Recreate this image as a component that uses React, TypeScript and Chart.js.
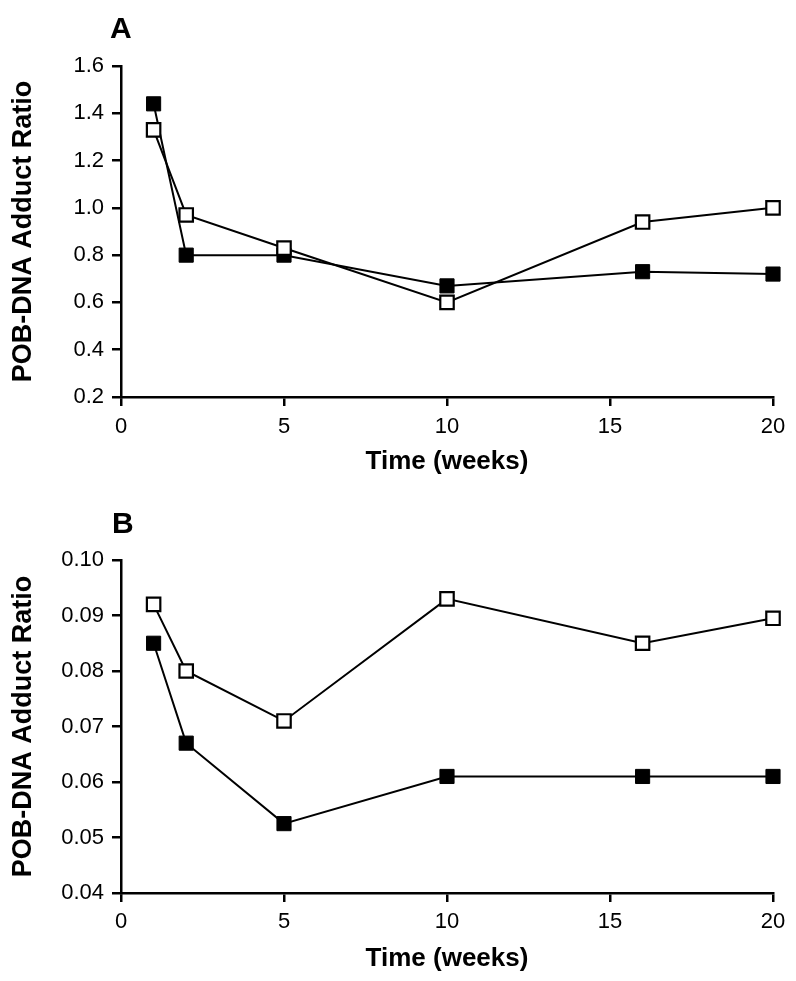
import React, { useEffect, useRef } from "react";
import { Chart, registerables } from "chart.js";

Chart.register(...registerables);

const weeks = [1, 2, 5, 10, 16, 20];
const xTicks = [0, 5, 10, 15, 20];

const panelAFilled = [1.44, 0.8, 0.8, 0.67, 0.73, 0.72];
const panelAOpen = [1.33, 0.97, 0.83, 0.6, 0.94, 1.0];
const panelAYTicks = [0.2, 0.4, 0.6, 0.8, 1.0, 1.2, 1.4, 1.6];

const panelBFilled = [0.085, 0.067, 0.0525, 0.061, 0.061, 0.061];
const panelBOpen = [0.092, 0.08, 0.071, 0.093, 0.085, 0.0895];
const panelBYTicks = [0.04, 0.05, 0.06, 0.07, 0.08, 0.09, 0.1];

const xTitle = "Time (weeks)";
const yTitle = "POB-DNA Adduct Ratio";

const FONT = "'Liberation Sans', Arial, Helvetica, sans-serif";

type PanelProps = {
  letter: string;
  filled: number[];
  open: number[];
  yTicks: number[];
  decimals: number;
  height: number;
  top: number;
  areaTop: number;
  areaBottom: number;
  letterX: number;
  letterY: number;
  xTickPad: number;
  xTitlePadBottom: number;
};

function Panel(props: PanelProps) {
  const ref = useRef<HTMLCanvasElement | null>(null);
  useEffect(() => {
    const canvas = ref.current;
    if (!canvas) return;
    const letterPlugin = {
      id: "panelLetter",
      afterDraw(chart: any) {
        const ctx = chart.ctx;
        ctx.save();
        ctx.fillStyle = "#000";
        ctx.font = `bold 30px ${FONT}`;
        ctx.textAlign = "left";
        ctx.textBaseline = "alphabetic";
        ctx.fillText(props.letter, props.letterX, props.letterY);
        ctx.restore();
      },
    };
    const yMin = props.yTicks[0];
    const yMax = props.yTicks[props.yTicks.length - 1];
    const mk = (vals: number[]) => weeks.map((w, i) => ({ x: w, y: vals[i] }));
    const chart = new Chart(canvas, {
      type: "line",
      data: {
        datasets: [
          {
            label: "open",
            data: mk(props.open),
            borderColor: "#000",
            borderWidth: 2,
            pointStyle: "rect",
            pointRadius: 9.5,
            pointBorderWidth: 2.2,
            pointBackgroundColor: "#fff",
            pointBorderColor: "#000",
            tension: 0,
            clip: false,
          },
          {
            label: "filled",
            data: mk(props.filled),
            borderColor: "#000",
            borderWidth: 2,
            pointStyle: "rect",
            pointRadius: 10,
            pointBorderWidth: 1,
            pointBackgroundColor: "#000",
            pointBorderColor: "#000",
            tension: 0,
            clip: false,
          },
        ],
      },
      options: {
        animation: false,
        responsive: false,
        devicePixelRatio: 1,
        events: [],
        layout: {
          padding: { left: 0, right: 23, top: props.areaTop, bottom: 0 },
        },
        plugins: {
          legend: { display: false },
          tooltip: { enabled: false },
          title: { display: false },
        },
        scales: {
          x: {
            type: "linear",
            min: 0,
            max: 20,
            afterBuildTicks: (scale: any) => {
              scale.ticks = xTicks.map((v) => ({ value: v }));
            },
            ticks: {
              color: "#000",
              font: { family: FONT, size: 22 },
              padding: props.xTickPad,
              maxRotation: 0,
              callback: (v: any) => String(v),
            },
            grid: {
              display: true,
              drawOnChartArea: false,
              drawTicks: true,
              tickLength: 9,
              color: "#000",
              lineWidth: 2.5,
            },
            border: { display: true, color: "#000", width: 2.5 },
            title: {
              display: true,
              text: xTitle,
              color: "#000",
              font: { family: FONT, size: 26, weight: "bold" },
              padding: { top: 0, bottom: props.xTitlePadBottom },
            },
            afterFit: (scale: any) => {
              scale.height = props.height - props.areaBottom;
            },
          } as any,
          y: {
            type: "linear",
            min: yMin,
            max: yMax,
            afterBuildTicks: (scale: any) => {
              scale.ticks = props.yTicks.map((v) => ({ value: v }));
            },
            ticks: {
              color: "#000",
              font: { family: FONT, size: 22 },
              padding: 8,
              callback: (v: any) => Number(v).toFixed(props.decimals),
            },
            grid: {
              display: true,
              drawOnChartArea: false,
              drawTicks: true,
              tickLength: 9,
              color: "#000",
              lineWidth: 2.5,
            },
            border: { display: true, color: "#000", width: 2.5 },
            title: {
              display: true,
              text: yTitle,
              color: "#000",
              font: { family: FONT, size: 27, weight: "bold" },
              padding: { top: 7, bottom: 0 },
            },
            afterFit: (scale: any) => {
              scale.width = 121;
            },
          } as any,
        },
      },
      plugins: [letterPlugin],
    });
    return () => chart.destroy();
  }, []);
  return (
    <canvas
      ref={ref}
      width={796}
      height={props.height}
      style={{
        position: "absolute",
        left: 0,
        top: props.top,
        width: 796,
        height: props.height,
        display: "block",
      }}
    />
  );
}

export default function App() {
  return (
    <div
      style={{
        position: "absolute",
        left: 0,
        top: 0,
        width: 796,
        height: 981,
        background: "#fff",
        overflow: "hidden",
      }}
    >
      <Panel
        letter="A"
        filled={panelAFilled}
        open={panelAOpen}
        yTicks={panelAYTicks}
        decimals={1}
        height={490}
        top={0}
        areaTop={66}
        areaBottom={397}
        letterX={110}
        letterY={38}
        xTickPad={8}
        xTitlePadBottom={13}
      />
      <Panel
        letter="B"
        filled={panelBFilled}
        open={panelBOpen}
        yTicks={panelBYTicks}
        decimals={2}
        height={491}
        top={490}
        areaTop={70}
        areaBottom={403}
        letterX={112}
        letterY={43}
        xTickPad={7}
        xTitlePadBottom={7}
      />
    </div>
  );
}
